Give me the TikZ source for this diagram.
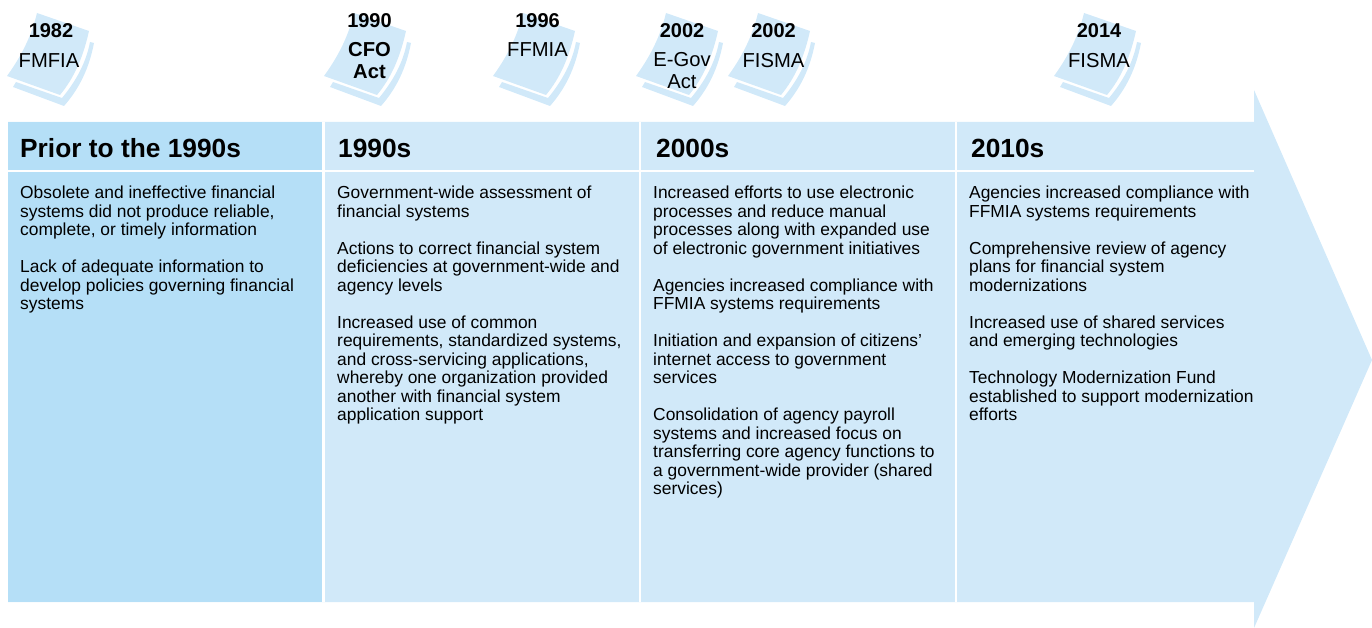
\documentclass[tikz,border=0pt]{standalone}
\usepackage{fontspec}
\setmainfont{Liberation Sans}
\definecolor{palecol}{HTML}{D1E9F9}
\definecolor{deepcol}{HTML}{B5DFF7}
\tikzset{
  head/.style={anchor=base west,inner sep=0pt,font=\fontsize{26.3}{30}\selectfont\bfseries},
  body/.style={anchor=north west,inner sep=0pt,align=left,font=\fontsize{17.4}{18.5}\selectfont},
  year/.style={anchor=base,inner sep=0pt,font=\fontsize{20}{22}\selectfont\bfseries},
  law/.style={anchor=base,inner sep=0pt,align=center,font=\fontsize{20.2}{21.5}\selectfont},
  sheet/.pic={
    \fill[palecol] (37,13) -- (89,31) .. controls (83,58) and (74,78) .. (60,95) -- (7,76) .. controls (20,58) and (31,38) .. (37,13) -- cycle;
    \fill[palecol] (94,43) .. controls (89,69) and (79,89) .. (64,106) -- (13,87) -- (16,82) -- (62,98) .. controls (76,81) and (86,63) .. (90,42) -- cycle;
  }
}
\begin{document}
\begin{tikzpicture}[x=1pt,y=-1pt]
  \useasboundingbox (0,0) rectangle (1372,628);

  % the arrow and its columns
  \fill[palecol] (8,122) -- (1254,122) -- (1254,90) -- (1372,360) -- (1254,628) -- (1254,602) -- (8,602) -- cycle;
  \fill[deepcol] (8,122) rectangle (322,602);
  \fill[white] (322,122) rectangle (325,602);
  \fill[white] (638.5,122) rectangle (641,602);
  \fill[white] (954.5,122) rectangle (957,602);
  \fill[white] (8,170) rectangle (1254,172.5);

  % the papers
  \pic at (0,0) {sheet};
  \pic at (317,0) {sheet};
  \pic at (486,0) {sheet};
  \pic at (629,0) {sheet};
  \pic at (721,0) {sheet};
  \pic at (1047,0) {sheet};

  \node[year] (y82) at (51,38) {1982};
  \node[law] (fmfia) at (49,67.5) {FMFIA};
  \node[year] (y90) at (369.5,28) {1990};
  \node[law,font=\fontsize{20.2}{21.5}\selectfont\bfseries] (cfo) at (369.5,78.5) {CFO\\Act};
  \node[year] (y96) at (537.5,28) {1996};
  \node[law] (ffmia) at (537.5,57) {FFMIA};
  \node[year] (y02a) at (682,38) {2002};
  \node[law] (egov) at (682,88.5) {E-Gov\\Act};
  \node[year] (y02b) at (773.5,38) {2002};
  \node[law] (fisma) at (773.5,67.5) {FISMA};
  \node[year] (y14) at (1099,38) {2014};
  \node[law] (fisma14) at (1099,67.5) {FISMA};

  \node[head] (prior) at (20,157.5) {Prior to the 1990s};
  \node[head] (n90) at (338,157.5) {1990s};
  \node[head] (n00) at (656,157.5) {2000s};
  \node[head] (n10) at (971,157.5) {2010s};

  \node[body] (t1) at (20,186) {Obsolete and ineffective financial\\systems did not produce reliable,\\complete, or timely information\\[18.5pt]Lack of adequate information to\\develop policies governing financial\\systems};
  \node[body] (t2) at (337,186) {Government-wide assessment of\\financial systems\\[18.5pt]Actions to correct financial system\\deficiencies at government-wide and\\agency levels\\[18.5pt]Increased use of common\\requirements, standardized systems,\\and cross-servicing applications,\\whereby one organization provided\\another with financial system\\application support};
  \node[body] (t3) at (653,186) {Increased efforts to use electronic\\processes and reduce manual\\processes along with expanded use\\of electronic government initiatives\\[18.5pt]Agencies increased compliance with\\FFMIA systems requirements\\[18.5pt]Initiation and expansion of citizens’\\internet access to government\\services\\[18.5pt]Consolidation of agency payroll\\systems and increased focus on\\transferring core agency functions to\\a government-wide provider (shared\\services)};
  \node[body] (t4) at (969,186) {Agencies increased compliance with\\FFMIA systems requirements\\[18.5pt]Comprehensive review of agency\\plans for financial system\\modernizations\\[18.5pt]Increased use of shared services\\and emerging technologies\\[18.5pt]Technology Modernization Fund\\established to support modernization\\efforts};
\end{tikzpicture}
\end{document}
